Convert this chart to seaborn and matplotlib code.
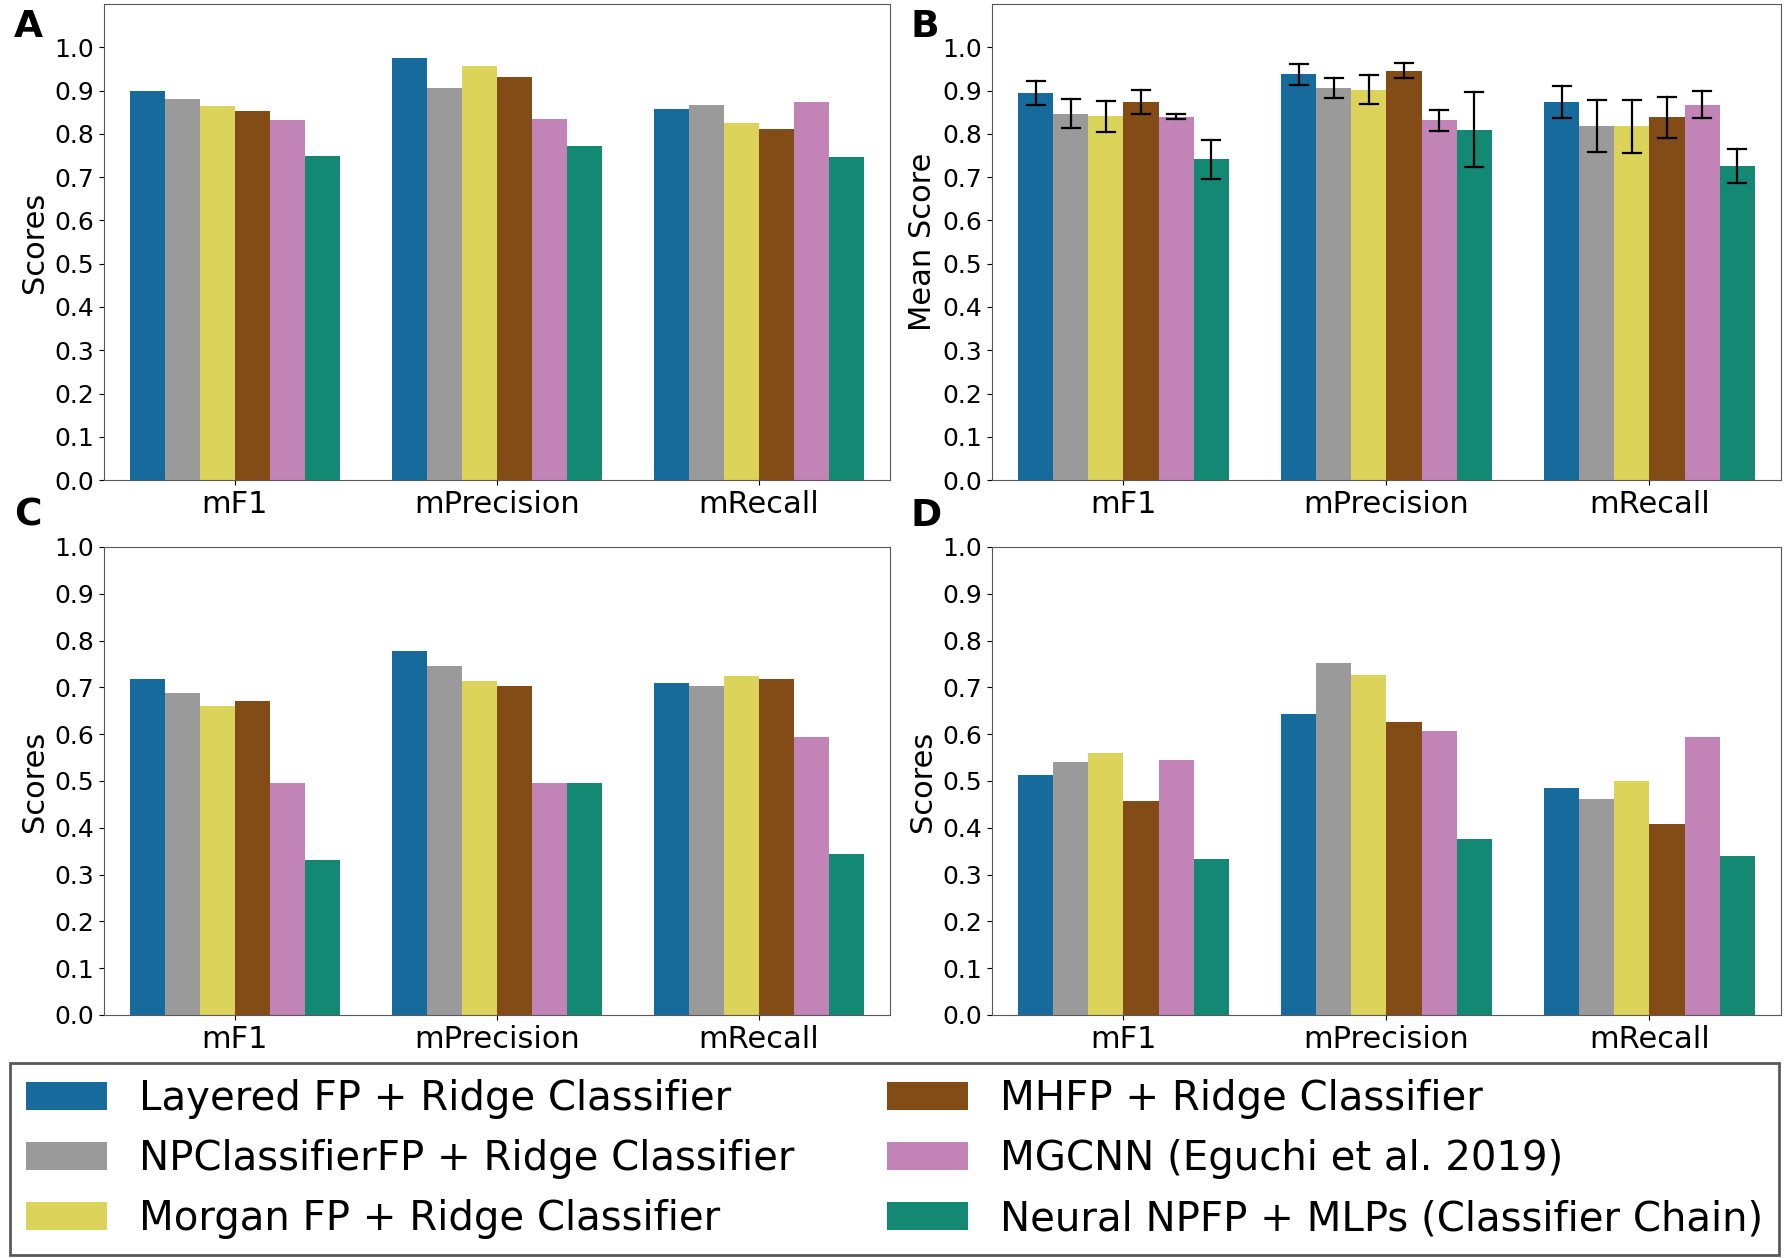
import pandas as pd
import matplotlib
matplotlib.use("Agg")
import matplotlib.pyplot as plt
import seaborn as sns

metrics = ["mF1", "mPrecision", "mRecall"]
models = [
    "Layered FP + Ridge Classifier",
    "NPClassifierFP + Ridge Classifier",
    "Morgan FP + Ridge Classifier",
    "MHFP + Ridge Classifier",
    "MGCNN (Eguchi et al. 2019)",
    "Neural NPFP + MLPs (Classifier Chain)",
]
colors = ["#176b9c", "#9a9a9a", "#dbd35a", "#834b15", "#c283b6", "#138873"]

# panel A - one score per model per metric
scores_a = [
    [0.900, 0.975, 0.857],
    [0.881, 0.907, 0.867],
    [0.864, 0.957, 0.825],
    [0.852, 0.932, 0.811],
    [0.831, 0.834, 0.873],
    [0.748, 0.773, 0.746],
]
# panel B - mean score and spread
means_b = [
    [0.894, 0.938, 0.873],
    [0.847, 0.906, 0.818],
    [0.841, 0.902, 0.817],
    [0.873, 0.946, 0.838],
    [0.840, 0.831, 0.867],
    [0.741, 0.810, 0.725],
]
errs_b = [
    [0.028, 0.024, 0.037],
    [0.034, 0.022, 0.060],
    [0.036, 0.034, 0.062],
    [0.028, 0.017, 0.047],
    [0.005, 0.024, 0.031],
    [0.045, 0.086, 0.039],
]
# panel C
scores_c = [
    [0.718, 0.778, 0.709],
    [0.687, 0.745, 0.703],
    [0.660, 0.714, 0.724],
    [0.671, 0.703, 0.717],
    [0.495, 0.496, 0.594],
    [0.331, 0.495, 0.345],
]
# panel D
scores_d = [
    [0.513, 0.643, 0.485],
    [0.540, 0.752, 0.462],
    [0.559, 0.727, 0.499],
    [0.457, 0.627, 0.409],
    [0.544, 0.606, 0.594],
    [0.333, 0.376, 0.339],
]


def to_long(values, errs=None):
    rows = []
    for model, vals, ee in zip(models, values, errs or [None] * len(models)):
        for j, metric in enumerate(metrics):
            if ee is None:
                rows.append((metric, model, vals[j]))
            else:
                # low/high pair so the bar mean is the score and min/max is the error bar
                rows.append((metric, model, vals[j] - ee[j]))
                rows.append((metric, model, vals[j] + ee[j]))
    return pd.DataFrame(rows, columns=["metric", "model", "score"])


fig = plt.figure(figsize=(17.89, 12.58), dpi=100)
positions = {
    "A": [0.0581, 0.6184, 0.4394, 0.3784],
    "B": [0.5545, 0.6184, 0.4410, 0.3784],
    "C": [0.0581, 0.1932, 0.4394, 0.3720],
    "D": [0.5545, 0.1932, 0.4410, 0.3720],
}
panels = {
    "A": (to_long(scores_a), "Scores", 1.1),
    "B": (to_long(means_b, errs_b), "Mean Score", 1.1),
    "C": (to_long(scores_c), "Scores", 1.0),
    "D": (to_long(scores_d), "Scores", 1.0),
}

axes = {}
for key, (df, ylab, ytop) in panels.items():
    ax = fig.add_axes(positions[key])
    if key == "B":
        sns.barplot(data=df, x="metric", y="score", hue="model", order=metrics,
                    hue_order=models, palette=colors, saturation=1, ax=ax,
                    errorbar=lambda v: (v.min(), v.max()), capsize=0.4,
                    err_kws={"color": "black", "linewidth": 1.6})
    else:
        sns.barplot(data=df, x="metric", y="score", hue="model", order=metrics,
                    hue_order=models, palette=colors, saturation=1, ax=ax,
                    errorbar=None)
    ax.set_ylim(0, ytop)
    ax.set_yticks([i / 10 for i in range(11)])
    ax.tick_params(axis="y", labelsize=18)
    ax.tick_params(axis="x", labelsize=22)
    ax.set_xlabel("")
    ax.set_ylabel(ylab, fontsize=22)
    for s in ax.spines.values():
        s.set_color("0.35")
    axes[key] = ax

handles, labels = axes["A"].get_legend_handles_labels()
for ax in axes.values():
    if ax.get_legend() is not None:
        ax.get_legend().remove()

leg = fig.legend(handles, labels, loc="lower center", bbox_to_anchor=(0.5, 0.002),
                 ncol=2, fontsize=29, fancybox=False, edgecolor="0.35",
                 framealpha=1, borderaxespad=0, columnspacing=2.3)
leg.get_frame().set_linewidth(2)

# panel letters
for key, (x, y) in {"A": (0.008, 0.9706), "B": (0.5087, 0.9706),
                    "C": (0.008, 0.5819), "D": (0.5087, 0.5819)}.items():
    fig.text(x, y, key, fontsize=27, fontweight="bold", va="baseline")

fig.savefig("out.png", dpi=100)
